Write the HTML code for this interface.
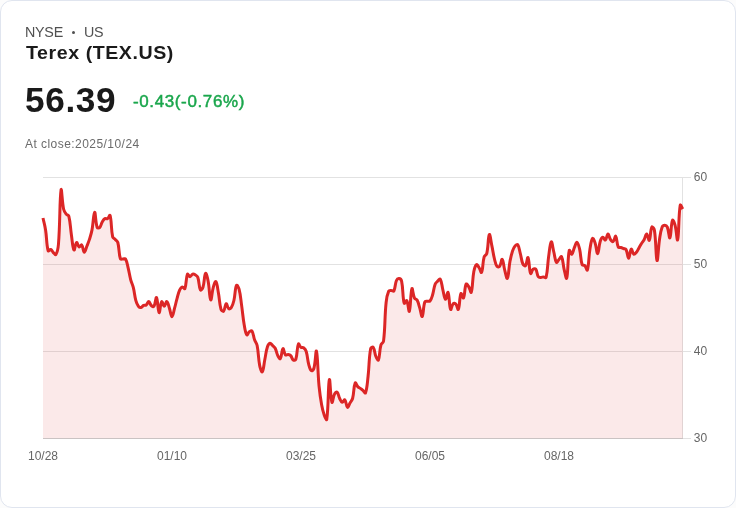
<!DOCTYPE html>
<html><head><meta charset="utf-8">
<style>
html,body{margin:0;padding:0;background:#fcfcfc;}
body{width:736px;height:508px;overflow:hidden;font-family:"Liberation Sans",sans-serif;position:relative;}
.card{position:absolute;left:0;top:0;width:734px;height:506px;border:1px solid #e0e5ef;border-radius:12px;background:#fff;}
.t{position:absolute;white-space:nowrap;line-height:1;}
.ex{left:24.5px;top:24.5px;font-size:14.3px;color:#505050;letter-spacing:-0.25px;}
.nm{left:25.6px;top:44.2px;font-size:18.5px;font-weight:bold;color:#1a1a1a;letter-spacing:0.52px;transform:scaleX(1.06);transform-origin:0 0;}
.pr{left:25.3px;top:82.3px;font-size:35.2px;font-weight:bold;color:#1a1a1a;letter-spacing:0.65px;}
.ch{left:133px;top:94px;font-size:16px;font-weight:normal;color:#1aa64c;-webkit-text-stroke:0.45px #1aa64c;letter-spacing:0.6px;transform:scaleX(1.06);transform-origin:0 0;}
.cl{left:25px;top:138.2px;font-size:12px;color:#6b6b6b;letter-spacing:0.45px;}
svg{position:absolute;left:0;top:0;will-change:transform;}
.t{will-change:transform;}
.ax{font-family:"Liberation Sans",sans-serif;font-size:12px;fill:#666;}
</style></head><body>
<div class="card"></div>
<div class="t ex">NYSE</div><div class="t ex" style="left:84.200px">US</div><div style="position:absolute;left:72px;top:31px;width:3px;height:3px;border-radius:50%;background:#505050"></div>
<div class="t nm">Terex (TEX.US)</div>
<div class="t pr">56.39</div>
<div class="t ch">-0.43(-0.76%)</div>
<div class="t cl">At close:2025/10/24</div>
<svg width="736" height="508" viewBox="0 0 736 508">
<g stroke="#e2e2e2" stroke-width="1" shape-rendering="crispEdges">
<line x1="43" y1="177.500" x2="691" y2="177.500"/>
<line x1="43" y1="264.500" x2="691" y2="264.500"/>
<line x1="43" y1="351.500" x2="691" y2="351.500"/>
<line x1="683" y1="438.500" x2="691" y2="438.500"/>
<line x1="682.500" y1="177" x2="682.500" y2="438"/>
</g>
<path fill="rgba(220,38,38,0.1)" stroke="none" d="M43.00 218.00C44.03 222.76 44.82 225.09 45.58 229.90C46.89 238.21 46.34 243.91 48.16 250.80C48.41 251.75 49.88 249.20 50.74 249.50C51.94 249.92 52.17 251.49 53.32 252.60C54.23 253.49 55.43 255.29 55.90 254.50C57.49 251.85 58.14 248.30 58.48 244.00C60.20 222.50 59.54 200.25 61.06 190.00C61.60 186.33 62.04 201.70 63.64 209.20C64.10 211.38 64.90 212.44 66.22 214.20C66.97 215.20 68.50 214.90 68.80 216.10C70.56 223.10 70.25 227.28 71.38 234.70C72.31 240.84 72.59 247.94 73.96 250.00C74.66 251.06 75.28 243.25 76.54 242.50C77.35 242.01 77.85 246.29 79.12 246.90C79.91 247.29 81.09 244.37 81.70 245.00C83.16 246.53 83.16 252.02 84.28 252.30C85.22 252.54 85.89 248.72 86.86 246.30C87.95 243.56 88.55 242.21 89.44 239.40C90.62 235.65 91.28 233.76 92.02 229.90C93.35 222.92 93.49 212.84 94.60 212.30C95.55 211.84 95.41 222.23 97.18 227.40C97.47 228.27 99.15 228.07 99.76 227.40C101.22 225.79 101.08 223.84 102.34 221.70C103.15 220.32 103.66 219.36 104.92 218.60C105.72 218.12 106.70 219.09 107.50 218.60C108.76 217.81 109.75 214.23 110.08 215.40C111.81 221.55 110.89 228.67 112.66 236.90C112.95 238.27 114.26 238.34 115.24 239.40C116.33 240.58 117.41 240.98 117.82 242.50C119.47 248.74 118.61 253.09 120.40 258.80C120.67 259.69 121.94 258.96 122.97 259.00C124.01 259.04 125.11 258.22 125.55 259.00C127.17 261.78 127.24 264.30 128.13 267.90C129.31 272.62 129.47 275.10 130.71 279.80C131.53 282.90 132.52 284.29 133.29 287.40C134.59 292.61 134.47 295.44 135.87 300.60C136.53 303.00 137.04 304.40 138.45 306.30C139.10 307.16 140.08 307.67 141.03 307.50C142.15 307.31 142.46 305.96 143.61 305.40C144.52 304.96 145.41 305.58 146.19 305.00C147.47 304.06 147.80 301.49 148.77 301.60C149.86 301.73 150.03 304.40 151.35 305.60C152.10 306.28 153.47 307.03 153.93 306.30C155.53 303.79 155.74 296.56 156.51 297.50C157.80 299.08 157.90 311.66 159.09 312.60C159.97 313.30 160.27 303.31 161.67 301.60C162.34 300.79 163.22 306.30 164.25 306.30C165.28 306.30 165.94 301.27 166.83 301.60C168.01 302.03 168.50 305.52 169.41 308.20C170.56 311.56 170.96 316.70 171.99 316.70C173.02 316.70 173.62 311.62 174.57 308.20C175.69 304.18 176.02 302.11 177.15 298.10C178.08 294.79 178.31 292.96 179.73 289.90C180.37 288.52 181.15 287.29 182.31 287.00C183.22 286.77 184.54 289.48 184.89 288.60C186.60 284.36 185.81 278.02 187.47 274.20C187.88 273.26 189.02 276.70 190.05 276.70C191.08 276.70 191.44 274.64 192.63 274.20C193.51 273.88 194.33 274.27 195.21 274.80C196.40 275.51 197.34 275.98 197.79 277.30C199.40 282.02 198.76 286.79 200.37 289.90C200.83 290.79 202.53 288.66 202.95 287.30C204.59 282.06 204.21 275.01 205.53 273.40C206.28 272.49 207.50 277.86 208.11 281.00C209.56 288.46 209.46 298.39 210.69 299.90C211.52 300.91 211.88 292.22 213.27 287.30C213.94 284.90 215.13 280.81 215.85 281.60C217.19 283.09 217.57 288.41 218.43 293.00C219.64 299.49 219.28 303.20 221.01 309.30C221.34 310.48 222.99 311.84 223.59 311.20C225.06 309.60 224.96 304.29 226.17 303.70C227.03 303.29 227.38 307.69 228.75 308.70C229.44 309.21 230.76 308.41 231.33 307.50C232.82 305.13 233.23 303.40 233.91 300.50C235.30 294.56 234.90 288.88 236.49 285.40C236.96 284.36 238.62 287.45 239.07 289.20C240.68 295.53 240.70 299.03 241.65 305.60C242.76 313.35 242.87 317.30 244.23 325.00C244.93 328.98 245.34 332.92 246.81 334.80C247.40 335.56 248.13 332.52 249.39 331.60C250.20 331.00 251.50 330.26 251.97 331.00C253.57 333.54 253.32 336.35 254.55 339.80C255.38 342.15 256.64 343.07 257.13 345.50C258.70 353.39 258.16 357.70 259.71 365.60C260.23 368.26 261.57 372.77 262.29 371.90C263.64 370.25 263.83 364.34 264.87 359.30C265.90 354.26 265.90 351.51 267.45 346.70C267.97 345.07 268.88 343.47 270.03 343.20C270.94 342.99 271.62 344.53 272.61 345.50C273.69 346.57 274.51 346.97 275.19 348.30C276.57 351.01 276.41 352.86 277.77 355.60C278.47 357.02 279.77 359.48 280.35 358.70C281.83 356.68 281.68 349.52 282.92 348.60C283.74 348.00 284.01 353.16 285.50 354.90C286.07 355.56 287.09 354.46 288.08 354.60C289.15 354.74 289.94 354.84 290.66 355.60C292.00 357.00 291.89 359.03 293.24 360.00C293.95 360.51 295.52 360.24 295.82 359.30C297.58 353.84 296.79 347.73 298.40 344.00C298.85 342.97 299.70 346.46 300.98 347.40C301.77 347.98 302.78 347.22 303.56 347.80C304.84 348.74 305.65 349.60 306.14 351.20C307.71 356.24 307.35 359.22 308.72 364.40C309.42 367.02 309.93 369.61 311.30 370.70C311.99 371.25 313.55 369.77 313.88 368.50C315.61 361.97 315.77 348.86 316.46 351.20C317.84 355.86 317.71 372.11 319.04 386.00C319.77 393.55 320.29 397.34 321.62 404.80C322.35 408.90 322.82 411.01 324.20 414.90C324.88 416.81 326.55 420.90 326.78 419.30C328.61 406.78 328.05 383.92 329.36 379.60C330.11 377.12 330.44 398.09 331.94 402.30C332.51 403.89 333.02 397.04 334.52 394.10C335.08 393.00 336.44 391.64 337.10 392.20C338.50 393.40 338.45 396.09 339.68 398.50C340.51 400.13 341.10 402.01 342.26 402.30C343.17 402.53 344.20 399.18 344.84 399.80C346.26 401.18 346.16 406.55 347.42 407.30C348.23 407.79 348.97 404.66 350.00 402.90C351.03 401.14 352.07 400.45 352.58 398.50C354.14 392.49 353.55 386.71 355.16 383.00C355.61 381.95 356.53 385.34 357.74 386.60C358.60 387.50 359.30 387.67 360.32 388.40C361.36 389.15 361.94 389.46 362.90 390.30C364.00 391.26 365.11 393.90 365.48 392.90C367.17 388.38 367.29 383.09 368.06 376.50C369.35 365.41 368.77 359.25 370.64 348.70C370.83 347.61 372.72 346.68 373.22 347.40C374.79 349.68 374.42 352.84 375.80 356.20C376.49 357.88 377.90 361.04 378.38 360.00C379.97 356.52 379.37 350.72 380.96 344.90C381.43 343.16 383.32 342.90 383.54 341.10C385.38 325.94 384.53 317.86 386.12 302.50C386.59 297.90 387.02 295.07 388.70 291.20C389.08 290.31 390.24 290.64 391.28 290.60C392.30 290.56 393.46 291.79 393.86 291.00C395.52 287.75 394.85 284.33 396.44 280.50C396.91 279.37 398.04 278.49 399.02 278.60C400.11 278.73 401.31 279.73 401.60 281.10C403.37 289.57 402.41 296.50 404.18 303.20C404.47 304.30 406.24 299.79 406.76 300.60C408.31 303.03 408.66 312.85 409.34 311.30C410.73 308.09 410.47 292.40 411.92 288.70C412.54 287.12 412.94 294.70 414.50 298.10C415.01 299.22 416.49 298.92 417.08 300.00C418.55 302.72 418.69 304.54 419.66 307.60C420.76 311.10 421.44 317.27 422.24 316.40C423.51 314.99 423.07 307.02 424.82 301.90C425.13 300.98 426.35 301.48 427.40 301.30C428.42 301.12 429.39 301.72 429.98 301.00C431.45 299.20 431.79 297.49 432.56 295.00C433.85 290.81 433.63 288.35 435.14 284.30C435.70 282.79 436.56 282.25 437.72 281.10C438.62 280.21 439.83 278.41 440.30 279.20C441.89 281.93 441.78 285.64 442.88 289.90C443.84 293.68 444.28 298.73 445.45 299.30C446.34 299.73 447.42 291.19 448.03 292.40C449.48 295.23 449.10 306.09 450.61 309.40C451.17 310.61 451.74 305.23 453.19 303.70C453.80 303.07 455.15 303.31 455.77 304.00C457.21 305.59 457.79 310.53 458.35 309.40C459.86 306.37 459.37 297.06 460.93 293.60C461.43 292.50 462.97 299.01 463.51 298.00C465.03 295.21 464.45 287.74 466.09 284.10C466.51 283.18 467.92 285.40 468.67 286.60C469.98 288.68 470.78 293.69 471.25 292.30C472.84 287.65 472.30 279.70 473.83 271.50C474.36 268.66 475.06 265.75 476.41 264.70C477.12 264.15 478.14 266.25 478.99 267.50C480.21 269.29 481.04 273.40 481.57 272.30C483.11 269.12 482.51 262.72 484.15 256.80C484.57 255.28 486.38 255.24 486.73 253.70C488.44 246.36 488.02 236.55 489.31 234.60C490.09 233.43 490.93 241.36 491.89 245.90C493.00 251.12 493.18 253.83 494.47 259.00C495.24 262.07 495.50 264.30 497.05 266.50C497.56 267.22 499.09 267.04 499.63 266.30C501.16 264.20 501.40 258.75 502.21 259.40C503.46 260.39 503.60 266.04 504.79 270.40C505.67 273.60 506.69 279.47 507.37 278.30C508.76 275.91 508.69 268.17 509.95 261.50C510.75 257.25 511.18 255.08 512.53 251.00C513.24 248.84 513.73 247.58 515.11 245.90C515.80 245.06 517.19 243.99 517.69 244.70C519.26 246.95 519.33 249.83 520.27 253.30C521.40 257.47 521.26 259.97 522.85 263.80C523.32 264.93 524.87 266.38 525.43 265.70C526.93 263.86 527.29 256.42 528.01 257.50C529.36 259.54 529.01 269.93 530.59 273.50C531.08 274.61 531.81 270.34 533.17 269.20C533.87 268.62 535.25 268.46 535.75 269.20C537.31 271.50 536.78 274.33 538.33 276.80C538.84 277.61 539.87 277.38 540.91 277.40C541.94 277.42 542.46 276.88 543.49 276.90C544.52 276.92 545.84 278.41 546.07 277.50C547.90 270.21 547.43 264.81 548.65 256.40C549.49 250.57 550.02 242.93 551.23 241.90C552.08 241.17 552.79 247.96 553.81 252.00C554.85 256.12 554.87 260.09 556.39 262.30C556.93 263.09 557.94 260.62 558.97 259.50C560.00 258.38 561.08 255.80 561.55 256.70C563.14 259.72 562.93 264.30 564.13 269.30C564.99 272.90 566.19 280.08 566.71 278.20C568.26 272.52 567.51 258.64 569.29 250.40C569.58 249.04 571.07 254.68 571.87 254.20C573.14 253.44 573.28 250.00 574.45 247.30C575.34 245.24 576.13 241.97 577.03 242.30C578.20 242.73 578.95 246.34 579.61 249.20C581.02 255.38 580.42 259.28 582.19 264.90C582.48 265.84 584.06 264.90 584.77 265.60C586.12 266.94 586.94 271.28 587.35 270.00C589.01 264.72 588.57 257.46 589.93 249.20C590.64 244.86 591.10 240.22 592.51 238.50C593.16 237.70 594.43 240.99 595.09 242.90C596.50 247.03 596.70 253.90 597.67 253.60C598.77 253.26 598.76 246.03 600.25 241.30C600.82 239.47 601.67 237.49 602.82 237.20C603.73 236.97 604.64 240.47 605.40 240.00C606.71 239.19 606.93 234.06 607.98 234.00C608.99 233.94 609.20 237.69 610.56 239.70C611.26 240.73 612.42 242.09 613.14 241.60C614.49 240.69 615.01 235.42 615.72 236.20C617.07 237.66 616.63 243.52 618.30 247.20C618.69 248.04 619.88 247.25 620.88 247.50C621.95 247.77 622.43 248.10 623.46 248.50C624.50 248.90 625.57 248.59 626.04 249.50C627.63 252.51 627.61 258.38 628.62 258.30C629.68 258.22 629.91 250.13 631.20 249.10C631.98 248.49 632.46 253.38 633.78 254.20C634.52 254.66 635.57 253.27 636.36 252.30C637.63 250.75 637.91 249.66 638.94 247.90C639.97 246.14 640.44 245.23 641.52 243.50C642.50 241.95 643.23 241.31 644.10 239.70C645.29 237.51 645.69 233.89 646.68 234.00C647.76 234.13 648.57 241.23 649.26 240.30C650.63 238.47 650.25 230.21 651.84 227.10C652.32 226.17 654.18 228.64 654.42 230.20C656.24 242.00 655.80 258.44 657.00 260.50C657.86 261.96 658.26 247.55 659.58 239.00C660.32 234.19 660.53 231.47 662.16 227.10C662.59 225.95 663.71 225.20 664.74 225.20C665.77 225.20 666.86 225.96 667.32 227.10C668.92 231.00 669.11 238.85 669.90 237.80C671.18 236.09 670.91 224.03 672.48 220.20C672.98 218.99 674.49 223.04 675.06 225.20C676.55 230.84 677.02 242.09 677.64 239.70C679.09 234.09 678.40 216.04 680.22 205.20C680.46 203.76 681.77 207.48 682.80 209.00L682.80 438.50 L43.00 438.50 Z"/>
<path fill="none" stroke="#dc2626" stroke-width="3" stroke-linejoin="round" stroke-linecap="butt" d="M43.00 218.00C44.03 222.76 44.82 225.09 45.58 229.90C46.89 238.21 46.34 243.91 48.16 250.80C48.41 251.75 49.88 249.20 50.74 249.50C51.94 249.92 52.17 251.49 53.32 252.60C54.23 253.49 55.43 255.29 55.90 254.50C57.49 251.85 58.14 248.30 58.48 244.00C60.20 222.50 59.54 200.25 61.06 190.00C61.60 186.33 62.04 201.70 63.64 209.20C64.10 211.38 64.90 212.44 66.22 214.20C66.97 215.20 68.50 214.90 68.80 216.10C70.56 223.10 70.25 227.28 71.38 234.70C72.31 240.84 72.59 247.94 73.96 250.00C74.66 251.06 75.28 243.25 76.54 242.50C77.35 242.01 77.85 246.29 79.12 246.90C79.91 247.29 81.09 244.37 81.70 245.00C83.16 246.53 83.16 252.02 84.28 252.30C85.22 252.54 85.89 248.72 86.86 246.30C87.95 243.56 88.55 242.21 89.44 239.40C90.62 235.65 91.28 233.76 92.02 229.90C93.35 222.92 93.49 212.84 94.60 212.30C95.55 211.84 95.41 222.23 97.18 227.40C97.47 228.27 99.15 228.07 99.76 227.40C101.22 225.79 101.08 223.84 102.34 221.70C103.15 220.32 103.66 219.36 104.92 218.60C105.72 218.12 106.70 219.09 107.50 218.60C108.76 217.81 109.75 214.23 110.08 215.40C111.81 221.55 110.89 228.67 112.66 236.90C112.95 238.27 114.26 238.34 115.24 239.40C116.33 240.58 117.41 240.98 117.82 242.50C119.47 248.74 118.61 253.09 120.40 258.80C120.67 259.69 121.94 258.96 122.97 259.00C124.01 259.04 125.11 258.22 125.55 259.00C127.17 261.78 127.24 264.30 128.13 267.90C129.31 272.62 129.47 275.10 130.71 279.80C131.53 282.90 132.52 284.29 133.29 287.40C134.59 292.61 134.47 295.44 135.87 300.60C136.53 303.00 137.04 304.40 138.45 306.30C139.10 307.16 140.08 307.67 141.03 307.50C142.15 307.31 142.46 305.96 143.61 305.40C144.52 304.96 145.41 305.58 146.19 305.00C147.47 304.06 147.80 301.49 148.77 301.60C149.86 301.73 150.03 304.40 151.35 305.60C152.10 306.28 153.47 307.03 153.93 306.30C155.53 303.79 155.74 296.56 156.51 297.50C157.80 299.08 157.90 311.66 159.09 312.60C159.97 313.30 160.27 303.31 161.67 301.60C162.34 300.79 163.22 306.30 164.25 306.30C165.28 306.30 165.94 301.27 166.83 301.60C168.01 302.03 168.50 305.52 169.41 308.20C170.56 311.56 170.96 316.70 171.99 316.70C173.02 316.70 173.62 311.62 174.57 308.20C175.69 304.18 176.02 302.11 177.15 298.10C178.08 294.79 178.31 292.96 179.73 289.90C180.37 288.52 181.15 287.29 182.31 287.00C183.22 286.77 184.54 289.48 184.89 288.60C186.60 284.36 185.81 278.02 187.47 274.20C187.88 273.26 189.02 276.70 190.05 276.70C191.08 276.70 191.44 274.64 192.63 274.20C193.51 273.88 194.33 274.27 195.21 274.80C196.40 275.51 197.34 275.98 197.79 277.30C199.40 282.02 198.76 286.79 200.37 289.90C200.83 290.79 202.53 288.66 202.95 287.30C204.59 282.06 204.21 275.01 205.53 273.40C206.28 272.49 207.50 277.86 208.11 281.00C209.56 288.46 209.46 298.39 210.69 299.90C211.52 300.91 211.88 292.22 213.27 287.30C213.94 284.90 215.13 280.81 215.85 281.60C217.19 283.09 217.57 288.41 218.43 293.00C219.64 299.49 219.28 303.20 221.01 309.30C221.34 310.48 222.99 311.84 223.59 311.20C225.06 309.60 224.96 304.29 226.17 303.70C227.03 303.29 227.38 307.69 228.75 308.70C229.44 309.21 230.76 308.41 231.33 307.50C232.82 305.13 233.23 303.40 233.91 300.50C235.30 294.56 234.90 288.88 236.49 285.40C236.96 284.36 238.62 287.45 239.07 289.20C240.68 295.53 240.70 299.03 241.65 305.60C242.76 313.35 242.87 317.30 244.23 325.00C244.93 328.98 245.34 332.92 246.81 334.80C247.40 335.56 248.13 332.52 249.39 331.60C250.20 331.00 251.50 330.26 251.97 331.00C253.57 333.54 253.32 336.35 254.55 339.80C255.38 342.15 256.64 343.07 257.13 345.50C258.70 353.39 258.16 357.70 259.71 365.60C260.23 368.26 261.57 372.77 262.29 371.90C263.64 370.25 263.83 364.34 264.87 359.30C265.90 354.26 265.90 351.51 267.45 346.70C267.97 345.07 268.88 343.47 270.03 343.20C270.94 342.99 271.62 344.53 272.61 345.50C273.69 346.57 274.51 346.97 275.19 348.30C276.57 351.01 276.41 352.86 277.77 355.60C278.47 357.02 279.77 359.48 280.35 358.70C281.83 356.68 281.68 349.52 282.92 348.60C283.74 348.00 284.01 353.16 285.50 354.90C286.07 355.56 287.09 354.46 288.08 354.60C289.15 354.74 289.94 354.84 290.66 355.60C292.00 357.00 291.89 359.03 293.24 360.00C293.95 360.51 295.52 360.24 295.82 359.30C297.58 353.84 296.79 347.73 298.40 344.00C298.85 342.97 299.70 346.46 300.98 347.40C301.77 347.98 302.78 347.22 303.56 347.80C304.84 348.74 305.65 349.60 306.14 351.20C307.71 356.24 307.35 359.22 308.72 364.40C309.42 367.02 309.93 369.61 311.30 370.70C311.99 371.25 313.55 369.77 313.88 368.50C315.61 361.97 315.77 348.86 316.46 351.20C317.84 355.86 317.71 372.11 319.04 386.00C319.77 393.55 320.29 397.34 321.62 404.80C322.35 408.90 322.82 411.01 324.20 414.90C324.88 416.81 326.55 420.90 326.78 419.30C328.61 406.78 328.05 383.92 329.36 379.60C330.11 377.12 330.44 398.09 331.94 402.30C332.51 403.89 333.02 397.04 334.52 394.10C335.08 393.00 336.44 391.64 337.10 392.20C338.50 393.40 338.45 396.09 339.68 398.50C340.51 400.13 341.10 402.01 342.26 402.30C343.17 402.53 344.20 399.18 344.84 399.80C346.26 401.18 346.16 406.55 347.42 407.30C348.23 407.79 348.97 404.66 350.00 402.90C351.03 401.14 352.07 400.45 352.58 398.50C354.14 392.49 353.55 386.71 355.16 383.00C355.61 381.95 356.53 385.34 357.74 386.60C358.60 387.50 359.30 387.67 360.32 388.40C361.36 389.15 361.94 389.46 362.90 390.30C364.00 391.26 365.11 393.90 365.48 392.90C367.17 388.38 367.29 383.09 368.06 376.50C369.35 365.41 368.77 359.25 370.64 348.70C370.83 347.61 372.72 346.68 373.22 347.40C374.79 349.68 374.42 352.84 375.80 356.20C376.49 357.88 377.90 361.04 378.38 360.00C379.97 356.52 379.37 350.72 380.96 344.90C381.43 343.16 383.32 342.90 383.54 341.10C385.38 325.94 384.53 317.86 386.12 302.50C386.59 297.90 387.02 295.07 388.70 291.20C389.08 290.31 390.24 290.64 391.28 290.60C392.30 290.56 393.46 291.79 393.86 291.00C395.52 287.75 394.85 284.33 396.44 280.50C396.91 279.37 398.04 278.49 399.02 278.60C400.11 278.73 401.31 279.73 401.60 281.10C403.37 289.57 402.41 296.50 404.18 303.20C404.47 304.30 406.24 299.79 406.76 300.60C408.31 303.03 408.66 312.85 409.34 311.30C410.73 308.09 410.47 292.40 411.92 288.70C412.54 287.12 412.94 294.70 414.50 298.10C415.01 299.22 416.49 298.92 417.08 300.00C418.55 302.72 418.69 304.54 419.66 307.60C420.76 311.10 421.44 317.27 422.24 316.40C423.51 314.99 423.07 307.02 424.82 301.90C425.13 300.98 426.35 301.48 427.40 301.30C428.42 301.12 429.39 301.72 429.98 301.00C431.45 299.20 431.79 297.49 432.56 295.00C433.85 290.81 433.63 288.35 435.14 284.30C435.70 282.79 436.56 282.25 437.72 281.10C438.62 280.21 439.83 278.41 440.30 279.20C441.89 281.93 441.78 285.64 442.88 289.90C443.84 293.68 444.28 298.73 445.45 299.30C446.34 299.73 447.42 291.19 448.03 292.40C449.48 295.23 449.10 306.09 450.61 309.40C451.17 310.61 451.74 305.23 453.19 303.70C453.80 303.07 455.15 303.31 455.77 304.00C457.21 305.59 457.79 310.53 458.35 309.40C459.86 306.37 459.37 297.06 460.93 293.60C461.43 292.50 462.97 299.01 463.51 298.00C465.03 295.21 464.45 287.74 466.09 284.10C466.51 283.18 467.92 285.40 468.67 286.60C469.98 288.68 470.78 293.69 471.25 292.30C472.84 287.65 472.30 279.70 473.83 271.50C474.36 268.66 475.06 265.75 476.41 264.70C477.12 264.15 478.14 266.25 478.99 267.50C480.21 269.29 481.04 273.40 481.57 272.30C483.11 269.12 482.51 262.72 484.15 256.80C484.57 255.28 486.38 255.24 486.73 253.70C488.44 246.36 488.02 236.55 489.31 234.60C490.09 233.43 490.93 241.36 491.89 245.90C493.00 251.12 493.18 253.83 494.47 259.00C495.24 262.07 495.50 264.30 497.05 266.50C497.56 267.22 499.09 267.04 499.63 266.30C501.16 264.20 501.40 258.75 502.21 259.40C503.46 260.39 503.60 266.04 504.79 270.40C505.67 273.60 506.69 279.47 507.37 278.30C508.76 275.91 508.69 268.17 509.95 261.50C510.75 257.25 511.18 255.08 512.53 251.00C513.24 248.84 513.73 247.58 515.11 245.90C515.80 245.06 517.19 243.99 517.69 244.70C519.26 246.95 519.33 249.83 520.27 253.30C521.40 257.47 521.26 259.97 522.85 263.80C523.32 264.93 524.87 266.38 525.43 265.70C526.93 263.86 527.29 256.42 528.01 257.50C529.36 259.54 529.01 269.93 530.59 273.50C531.08 274.61 531.81 270.34 533.17 269.20C533.87 268.62 535.25 268.46 535.75 269.20C537.31 271.50 536.78 274.33 538.33 276.80C538.84 277.61 539.87 277.38 540.91 277.40C541.94 277.42 542.46 276.88 543.49 276.90C544.52 276.92 545.84 278.41 546.07 277.50C547.90 270.21 547.43 264.81 548.65 256.40C549.49 250.57 550.02 242.93 551.23 241.90C552.08 241.17 552.79 247.96 553.81 252.00C554.85 256.12 554.87 260.09 556.39 262.30C556.93 263.09 557.94 260.62 558.97 259.50C560.00 258.38 561.08 255.80 561.55 256.70C563.14 259.72 562.93 264.30 564.13 269.30C564.99 272.90 566.19 280.08 566.71 278.20C568.26 272.52 567.51 258.64 569.29 250.40C569.58 249.04 571.07 254.68 571.87 254.20C573.14 253.44 573.28 250.00 574.45 247.30C575.34 245.24 576.13 241.97 577.03 242.30C578.20 242.73 578.95 246.34 579.61 249.20C581.02 255.38 580.42 259.28 582.19 264.90C582.48 265.84 584.06 264.90 584.77 265.60C586.12 266.94 586.94 271.28 587.35 270.00C589.01 264.72 588.57 257.46 589.93 249.20C590.64 244.86 591.10 240.22 592.51 238.50C593.16 237.70 594.43 240.99 595.09 242.90C596.50 247.03 596.70 253.90 597.67 253.60C598.77 253.26 598.76 246.03 600.25 241.30C600.82 239.47 601.67 237.49 602.82 237.20C603.73 236.97 604.64 240.47 605.40 240.00C606.71 239.19 606.93 234.06 607.98 234.00C608.99 233.94 609.20 237.69 610.56 239.70C611.26 240.73 612.42 242.09 613.14 241.60C614.49 240.69 615.01 235.42 615.72 236.20C617.07 237.66 616.63 243.52 618.30 247.20C618.69 248.04 619.88 247.25 620.88 247.50C621.95 247.77 622.43 248.10 623.46 248.50C624.50 248.90 625.57 248.59 626.04 249.50C627.63 252.51 627.61 258.38 628.62 258.30C629.68 258.22 629.91 250.13 631.20 249.10C631.98 248.49 632.46 253.38 633.78 254.20C634.52 254.66 635.57 253.27 636.36 252.30C637.63 250.75 637.91 249.66 638.94 247.90C639.97 246.14 640.44 245.23 641.52 243.50C642.50 241.95 643.23 241.31 644.10 239.70C645.29 237.51 645.69 233.89 646.68 234.00C647.76 234.13 648.57 241.23 649.26 240.30C650.63 238.47 650.25 230.21 651.84 227.10C652.32 226.17 654.18 228.64 654.42 230.20C656.24 242.00 655.80 258.44 657.00 260.50C657.86 261.96 658.26 247.55 659.58 239.00C660.32 234.19 660.53 231.47 662.16 227.10C662.59 225.95 663.71 225.20 664.74 225.20C665.77 225.20 666.86 225.96 667.32 227.10C668.92 231.00 669.11 238.85 669.90 237.80C671.18 236.09 670.91 224.03 672.48 220.20C672.98 218.99 674.49 223.04 675.06 225.20C676.55 230.84 677.02 242.09 677.64 239.70C679.09 234.09 678.40 216.04 680.22 205.20C680.46 203.76 681.77 207.48 682.80 209.00"/>
<line x1="43" y1="438.500" x2="683" y2="438.500" stroke="rgba(0,0,0,0.2)" stroke-width="1" shape-rendering="crispEdges"/>
<g class="ax">
<text x="693.800" y="180.600">60</text><text x="693.800" y="267.600">50</text><text x="693.800" y="354.600">40</text><text x="693.800" y="441.600">30</text>
<text x="43" y="460" text-anchor="middle">10/28</text>
<text x="172" y="460" text-anchor="middle">01/10</text>
<text x="301" y="460" text-anchor="middle">03/25</text>
<text x="430" y="460" text-anchor="middle">06/05</text>
<text x="559" y="460" text-anchor="middle">08/18</text>
</g>
</svg>
</body></html>
